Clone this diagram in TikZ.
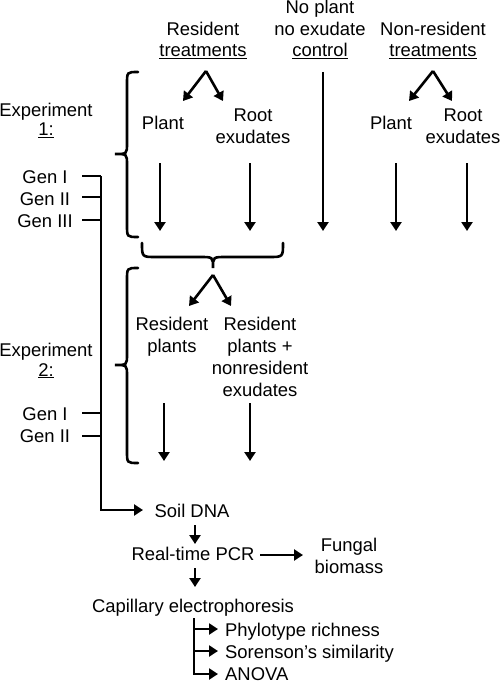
\documentclass[tikz,border=0pt]{standalone}
\usepackage{fontspec}
\setmainfont{Liberation Sans}
\usetikzlibrary{arrows.meta}

\tikzset{
  lbl/.style={font=\fontsize{18.5}{22}\selectfont, align=center, inner sep=0pt, anchor=base},
  arr/.style={line width=2.6bp, -{Triangle[length=9bp,width=11bp]}},
  ln/.style={line width=2.6bp},
  brc/.style={line width=2.6bp, line cap=round},
}

\begin{document}
\begin{tikzpicture}[x=1bp,y=-1bp]
  \useasboundingbox (0,0) rectangle (500,685);

  % column heads (anchored at the last line)
  \node[lbl] (reshead) at (203,57) {Resident\\\underline{treatments}};
  \node[lbl] (ctlhead) at (320,57) {No plant\\no exudate\\\underline{control}};
  \node[lbl] (nonhead) at (433,57) {Non-resident\\\underline{treatments}};

  % experiment 1
  \node[lbl] (exp1) at (46,136) {Experiment\\[-2bp]\underline{1:}};
  \node[lbl] (gen1a) at (45,183) {Gen I};
  \node[lbl] (gen1b) at (45,205) {Gen II};
  \node[lbl] (gen1c) at (45,227) {Gen III};
  \node[lbl] (resplant) at (163,130) {Plant};
  \node[lbl] (resexu) at (253,143) {Root\\exudates};
  \node[lbl] (nonplant) at (391,130) {Plant};
  \node[lbl] (nonexu) at (463,143) {Root\\exudates};

  \coordinate (ressplit) at (206,71);
  \coordinate (nonsplit) at (433,71);
  \coordinate (resplantin) at (183,101);
  \coordinate (resexuin) at (223,101);
  \coordinate (nonplantin) at (409,101);
  \coordinate (nonexuin) at (452,101);
  \draw[arr] (ressplit) -- (resplantin);
  \draw[arr] (ressplit) -- (resexuin);
  \draw[arr] (nonsplit) -- (nonplantin);
  \draw[arr] (nonsplit) -- (nonexuin);

  \foreach \name/\x/\top in {a/160/163,b/250/163,c/323/72,d/396/163,e/467/163}{
    \coordinate (down1\name) at (\x,\top);
    \coordinate (end1\name) at (\x,231);
    \draw[arr] (down1\name) -- (end1\name);
  }

  \draw[brc] (138,72) .. controls (127,72) .. (127,84) -- (127,143)
    .. controls (127,154) .. (115,154) .. controls (127,154) .. (127,165)
    -- (127,225) .. controls (127,237) .. (138,237);
  \draw[brc] (142,243) .. controls (142,257) .. (156,257) -- (200,257)
    .. controls (213,257) .. (213,268) .. controls (213,257) .. (226,257)
    -- (269,257) .. controls (283,257) .. (283,243);

  % experiment 2
  \node[lbl] (exp2) at (46,376) {Experiment\\[-2bp]\underline{2:}};
  \node[lbl] (gen2a) at (45,420) {Gen I};
  \node[lbl] (gen2b) at (45,442) {Gen II};
  \node[lbl] (resplants) at (172,352) {Resident\\plants};
  \node[lbl] (resnonexu) at (260,396) {Resident\\plants +\\nonresident\\exudates};

  \coordinate (exp2split) at (213,275);
  \coordinate (resplantsin) at (189,306);
  \coordinate (resnonexuin) at (231,306);
  \draw[arr] (exp2split) -- (resplantsin);
  \draw[arr] (exp2split) -- (resnonexuin);

  \foreach \name/\x in {a/164,b/250}{
    \coordinate (down2\name) at (\x,403);
    \coordinate (end2\name) at (\x,461);
    \draw[arr] (down2\name) -- (end2\name);
  }

  \draw[brc] (138,268) .. controls (127,268) .. (127,280) -- (127,354)
    .. controls (127,365) .. (115,365) .. controls (127,365) .. (127,376)
    -- (127,451) .. controls (127,463) .. (138,463);

  % generation lines into the spine
  \coordinate (spinetop) at (101,176);
  \foreach \g/\y in {1a/176,1b/197,1c/220,2a/413,2b/436}{
    \coordinate (tick\g) at (82,\y);
    \draw[ln] (tick\g) -- (101,\y);
  }

  % analysis
  \node[lbl] (soil) at (192,517) {Soil DNA};
  \node[lbl] (pcr) at (193,560) {Real-time PCR};
  \node[lbl] (fungal) at (349,573) {Fungal\\biomass};
  \node[lbl] (cap) at (193,612) {Capillary electrophoresis};
  \node[lbl, anchor=base west] (rich) at (225,636) {Phylotype richness};
  \node[lbl, anchor=base west] (soren) at (225,658) {Sorenson’s similarity};
  \node[lbl, anchor=base west] (anova) at (225,680) {ANOVA};

  \coordinate (soilin) at (143,510);
  \draw[arr] (spinetop) -- (101,510) -- (soilin);
  \coordinate (soilout) at (195,525);
  \coordinate (pcrin) at (195,544);
  \draw[arr] (soilout) -- (pcrin);
  \coordinate (pcrout) at (195,568);
  \coordinate (capin) at (195,587);
  \draw[arr] (pcrout) -- (capin);
  \coordinate (pcrright) at (260,555);
  \coordinate (fungalin) at (303,555);
  \draw[arr] (pcrright) -- (fungalin);

  \coordinate (capout) at (194,618);
  \foreach \name/\y in {rich/629,soren/651,anova/674}{
    \coordinate (\name in) at (218,\y);
  }
  \draw[arr] (capout) |- (richin);
  \draw[arr] (capout) |- (sorenin);
  \draw[arr] (capout) |- (anovain);
\end{tikzpicture}
\end{document}
